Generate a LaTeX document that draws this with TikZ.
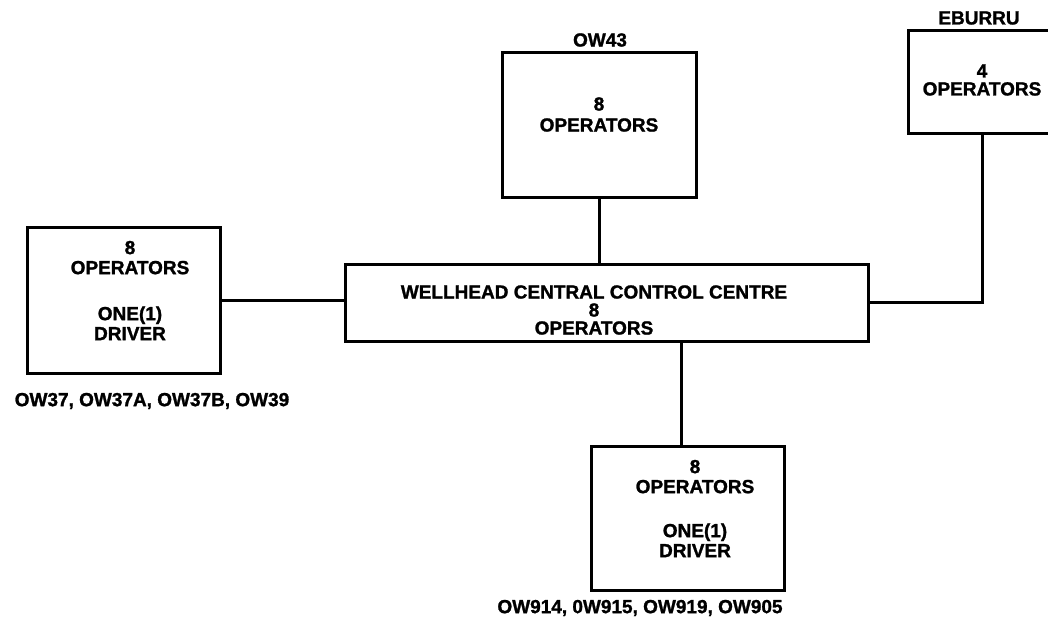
\documentclass[tikz,border=0pt]{standalone}
\usepackage{fontspec}
\setmainfont{Liberation Sans}[BoldFeatures={FakeBold=1.3}]
\begin{document}
\begin{tikzpicture}[x=1pt,y=-1pt,
  site/.style={draw,line width=3pt,rectangle,inner sep=0pt},
  txt/.style={font=\fontsize{19}{20}\selectfont\bfseries,align=center,inner sep=0pt},
  link/.style={line width=3pt}]
\clip (0,0) rectangle (1048,625);
\fill[white] (0,0) rectangle (1048,625);

% boxes
\node[site,minimum width=193pt,minimum height=146pt] (left) at (123.5,300) {};
\node[site,minimum width=194pt,minimum height=145pt] (ow43) at (599,124.5) {};
\node[site,minimum width=523pt,minimum height=77pt] (centre) at (606.5,302.5) {};
\node[site,minimum width=148pt,minimum height=103pt] (eburru) at (982,81.5) {};
\node[site,minimum width=193pt,minimum height=144pt] (bottom) at (687.5,518) {};

% box contents
\node[txt] (lefttxt) at (130,290.5) {8\\OPERATORS\\[26pt]ONE(1)\\DRIVER};
\node[txt,font=\fontsize{19}{21}\selectfont\bfseries] (ow43txt) at (599,114.5) {8\\OPERATORS};
\node[txt,font=\fontsize{19}{18}\selectfont\bfseries] (centretxt) at (594,310) {WELLHEAD CENTRAL CONTROL CENTRE\\8\\OPERATORS};
\node[txt,font=\fontsize{19}{18}\selectfont\bfseries] (eburrutxt) at (982,80) {4\\OPERATORS};
\node[txt] (bottomtxt) at (695,508.5) {8\\OPERATORS\\[24pt]ONE(1)\\DRIVER};

% site names
\node[txt] (ow43lbl) at (600,40) {OW43};
\node[txt] (eburrulbl) at (979,18) {EBURRU};
\node[txt] (leftlbl) at (152,401) {OW37, OW37A, OW37B, OW39};
\node[txt] (bottomlbl) at (640,608) {OW914, 0W915, OW919, OW905};

% connectors
\draw[link] (left.east) -- (left.east -| centre.west);
\draw[link] (ow43.south) -- (ow43.south |- centre.north);
\draw[link] (centre.east) -| (eburru.south);
\draw[link] ([xshift=-6.5pt]bottom.north) -- ([xshift=-6.5pt]bottom.north |- centre.south);
\end{tikzpicture}
\end{document}
